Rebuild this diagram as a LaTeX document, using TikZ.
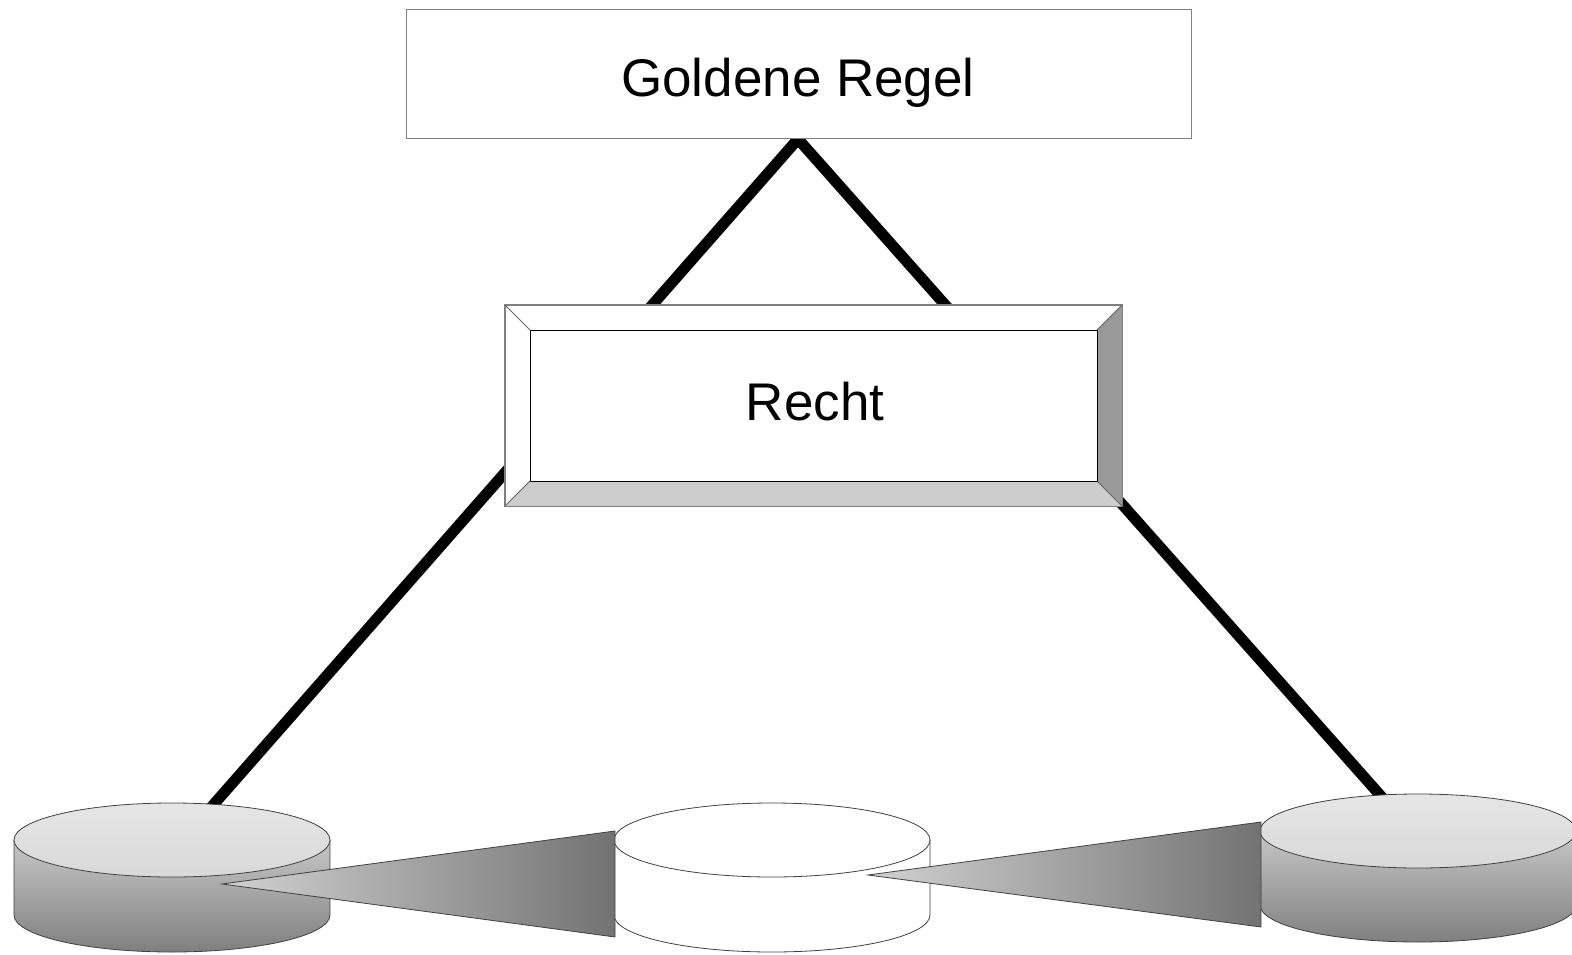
\documentclass[tikz,border=0pt]{standalone}
\usepackage{fontspec}
\setmainfont{Liberation Sans}
\usetikzlibrary{calc}
\begin{document}
\begin{tikzpicture}[x=1pt,y=-1pt,
  thinline/.style={draw=black!75,line width=0.8pt},
  conn/.style={line width=11pt,black,line join=miter},
  cylbody/.style={thinline,top color=black!22,bottom color=black!50},
  cyltop/.style={thinline,top color=black!10,bottom color=black!15},
  wedge/.style={thinline,left color=black!18,right color=black!55},
  lbl/.style={font=\fontsize{53}{60}\selectfont,anchor=base}]
\useasboundingbox (0,0) rectangle (1572,955);
% named anchors
\coordinate (apex) at (798,139);
\coordinate (lc) at (172,840);
\coordinate (mc) at (772,840);
\coordinate (rc) at (1418,831);
\coordinate (lcTop) at (207,812);
\coordinate (rcTop) at (1388,804);
% connectors
\draw[conn] (lcTop) -- (apex) -- (rcTop);
% top box
\node[draw=black!50,line width=0.8pt,fill=white,minimum width=785pt,minimum height=129pt,inner sep=0pt] (gold) at (798.5,73.5) {};
\node[lbl] (goldtext) at (798,97) {Goldene Regel};
% Recht bevel box
\node[draw=black!50,line width=0.8pt,fill=white,minimum width=617pt,minimum height=201pt,inner sep=0pt] (recht) at (813.5,405.5) {};
\fill[black!40] (1122,305) -- (1122,506) -- (1097,481) -- (1097,330) -- cycle;
\fill[black!20] (505,506) -- (1122,506) -- (1097,481) -- (530,481) -- cycle;
\draw[draw=black!60,line width=0.8pt] (505,305) -- (530,330) (1122,305) -- (1097,330) (505,506) -- (530,481) (1122,506) -- (1097,481);
\draw[draw=black!50,line width=0.8pt] (recht.north west) rectangle (recht.south east);
\node[draw=black,line width=1pt,minimum width=567pt,minimum height=151pt,inner sep=0pt] (rechtin) at (813.5,405.5) {};
\node[lbl] (rechttext) at (815,420) {Recht};
% left cylinder
\path[cylbody] ($(lc)+(-158,0)$) -- ++(0,75) arc[start angle=180,end angle=0,x radius=158,y radius=37] -- ++(0,-75) -- cycle;
\path[cyltop] (lc) ellipse[x radius=158,y radius=37];
% middle cylinder
\path[thinline,fill=white] ($(mc)+(-158,0)$) -- ++(0,75) arc[start angle=180,end angle=0,x radius=158,y radius=37] -- ++(0,-75) -- cycle;
\path[thinline,fill=white] (mc) ellipse[x radius=158,y radius=37];
% right cylinder
\path[cylbody] ($(rc)+(-158,0)$) -- ++(0,74) arc[start angle=180,end angle=0,x radius=158,y radius=37] -- ++(0,-74) -- cycle;
\path[cyltop] (rc) ellipse[x radius=158,y radius=37];
% wedges
\coordinate (w1tip) at (222,884);
\coordinate (w1a) at (615,831);
\coordinate (w1b) at (615,937);
\path[wedge] (w1tip) -- (w1a) -- (w1b) -- cycle;
\coordinate (w2tip) at (868,875);
\coordinate (w2a) at (1261,822);
\coordinate (w2b) at (1261,927);
\path[wedge] (w2tip) -- (w2a) -- (w2b) -- cycle;
\end{tikzpicture}
\end{document}
